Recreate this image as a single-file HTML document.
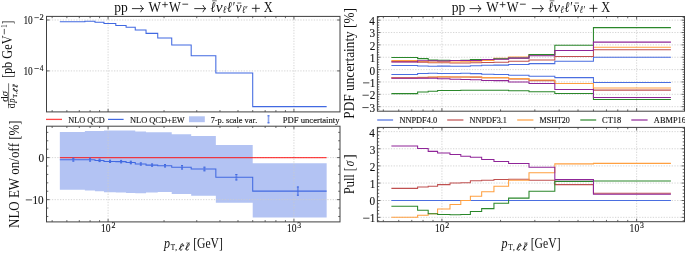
<!DOCTYPE html>
<html><head><meta charset="utf-8"><title>pT distribution</title>
<style>
html,body{margin:0;padding:0;background:#fff;width:685px;height:253px;overflow:hidden}
svg{display:block;will-change:transform}
text{font-family:"Liberation Serif",serif;fill:#111;font-kerning:none}
.lg,.tk{stroke:#111;stroke-width:0.12px}
.it{font-style:italic}
.g{stroke:#cbcbcb;stroke-width:0.8;stroke-dasharray:1.3 1.4;fill:none}
.t{stroke:#404040;stroke-width:0.8;fill:none}
.fr{stroke:#404040;stroke-width:1.0;fill:none}
.ln{fill:none;stroke-width:1.05;stroke-linejoin:miter}
.ln2{fill:none;stroke-width:1.05;stroke-linejoin:miter}
</style></head>
<body><svg width="685" height="253" viewBox="0 0 685 253">
<line x1="108.09" y1="16.4" x2="108.09" y2="111.9" class="g"/>
<line x1="293.93" y1="16.4" x2="293.93" y2="111.9" class="g"/>
<line x1="46.5" y1="20" x2="340" y2="20" class="g"/>
<line x1="46.5" y1="70.9" x2="340" y2="70.9" class="g"/>
<path d="M59.84 21.7H84.87V21.2H94.98V22.2H103.95V23.4H115.79V25.4H126.1V27.3H135.25V29.95H146.03V33.35H157.74V38H171.73V44.9H191.19V55.75H215.84V72.9H252.71V106.6H326.66" class="ln" stroke="#4169e1"/>
<path d="M52.15 16.4v1.8M52.15 111.9v-1.8M66.86 16.4v1.8M66.86 111.9v-1.8M79.31 16.4v1.8M79.31 111.9v-1.8M90.08 16.4v1.8M90.08 111.9v-1.8M99.59 16.4v1.8M99.59 111.9v-1.8M164.04 16.4v1.8M164.04 111.9v-1.8M196.76 16.4v1.8M196.76 111.9v-1.8M219.98 16.4v1.8M219.98 111.9v-1.8M237.99 16.4v1.8M237.99 111.9v-1.8M252.71 16.4v1.8M252.71 111.9v-1.8M265.15 16.4v1.8M265.15 111.9v-1.8M275.92 16.4v1.8M275.92 111.9v-1.8M285.43 16.4v1.8M285.43 111.9v-1.8M108.09 16.4v3M108.09 111.9v-3M293.93 16.4v3M293.93 111.9v-3" class="t"/>
<path d="M46.5 20h3M340 20h-3M46.5 70.9h3M340 70.9h-3" class="t"/>
<rect x="46.5" y="16.4" width="293.5" height="95.5" class="fr"/>
<path d="M59.84 132L84.87 132L84.87 130.9L94.98 130.9L94.98 130.9L103.95 130.9L103.95 130.6L115.79 130.6L115.79 130.4L126.1 130.4L126.1 130.6L135.25 130.6L135.25 131.6L146.03 131.6L146.03 132.3L157.74 132.3L157.74 132.3L171.73 132.3L171.73 134.2L191.19 134.2L191.19 136L215.84 136L215.84 145L252.71 145L252.71 163.2L326.66 163.2L326.66 217.4L252.71 217.4L252.71 202.8L215.84 202.8L215.84 195.8L191.19 195.8L191.19 194L171.73 194L171.73 192L157.74 192L157.74 192.6L146.03 192.6L146.03 193.3L135.25 193.3L135.25 193L126.1 193L126.1 192.5L115.79 192.5L115.79 192.2L103.95 192.2L103.95 191.2L94.98 191.2L94.98 190.4L84.87 190.4L84.87 189.7L59.84 189.7Z" fill="#b3c3f3"/>
<line x1="108.09" y1="126.2" x2="108.09" y2="221.9" class="g"/>
<line x1="293.93" y1="126.2" x2="293.93" y2="221.9" class="g"/>
<line x1="46.5" y1="157.6" x2="340" y2="157.6" class="g"/>
<line x1="46.5" y1="199.65" x2="340" y2="199.65" class="g"/>
<line x1="59.84" y1="157.6" x2="326.66" y2="157.6" stroke="#ff0000" stroke-opacity="0.72" stroke-width="1.3"/>
<path d="M59.84 159.7H84.87V159.7H94.98V160.4H103.95V161.4H115.79V161.6H126.1V162.5H135.25V164H146.03V165.1H157.74V165.7H171.73V167.3H191.19V169H215.84V177.2H252.71V191.1H326.66" class="ln" stroke="#4169e1"/>
<path d="M73.32 157.8V161.6M90.08 157.8V161.6M99.59 158.7V162.1M110.09 159.8V163M121.11 159.9V163.3M130.81 160.8V164.2M140.82 162.4V165.6M152.1 163.5V166.7M165.04 164V167.4M182.05 165.1V169.5M204.45 166.7V171.3M236.36 174V180.4M297.87 186.5V195.7" stroke="#4169e1" stroke-width="1.8" stroke-opacity="0.6" fill="none"/>
<path d="M72.32 158.3h2M72.32 161.1h2M89.08 158.3h2M89.08 161.1h2M98.59 159.2h2M98.59 161.6h2M109.09 160.3h2M109.09 162.5h2M120.11 160.4h2M120.11 162.8h2M129.81 161.3h2M129.81 163.7h2M139.82 162.9h2M139.82 165.1h2M151.1 164h2M151.1 166.2h2M164.04 164.5h2M164.04 166.9h2M181.05 165.6h2M181.05 169h2M203.45 167.2h2M203.45 170.8h2M235.36 174.5h2M235.36 179.9h2M296.87 187h2M296.87 195.2h2" stroke="#4169e1" stroke-width="1" fill="none"/>
<path d="M52.15 126.2v1.8M52.15 221.9v-1.8M66.86 126.2v1.8M66.86 221.9v-1.8M79.31 126.2v1.8M79.31 221.9v-1.8M90.08 126.2v1.8M90.08 221.9v-1.8M99.59 126.2v1.8M99.59 221.9v-1.8M164.04 126.2v1.8M164.04 221.9v-1.8M196.76 126.2v1.8M196.76 221.9v-1.8M219.98 126.2v1.8M219.98 221.9v-1.8M237.99 126.2v1.8M237.99 221.9v-1.8M252.71 126.2v1.8M252.71 221.9v-1.8M265.15 126.2v1.8M265.15 221.9v-1.8M275.92 126.2v1.8M275.92 221.9v-1.8M285.43 126.2v1.8M285.43 221.9v-1.8M108.09 126.2v3M108.09 221.9v-3M293.93 126.2v3M293.93 221.9v-3" class="t"/>
<path d="M46.5 216.47h1.8M340 216.47h-1.8M46.5 208.06h1.8M340 208.06h-1.8M46.5 191.24h1.8M340 191.24h-1.8M46.5 182.83h1.8M340 182.83h-1.8M46.5 174.42h1.8M340 174.42h-1.8M46.5 166.01h1.8M340 166.01h-1.8M46.5 149.19h1.8M340 149.19h-1.8M46.5 140.78h1.8M340 140.78h-1.8M46.5 132.37h1.8M340 132.37h-1.8M46.5 157.6h3M340 157.6h-3M46.5 199.65h3M340 199.65h-3" class="t"/>
<rect x="46.5" y="126.2" width="293.5" height="95.7" class="fr"/>
<line x1="441.93" y1="16.5" x2="441.93" y2="111.2" class="g"/>
<line x1="636.64" y1="16.5" x2="636.64" y2="111.2" class="g"/>
<line x1="377.4" y1="106.68" x2="684.5" y2="106.68" class="g"/>
<line x1="377.4" y1="94.32" x2="684.5" y2="94.32" class="g"/>
<line x1="377.4" y1="81.96" x2="684.5" y2="81.96" class="g"/>
<line x1="377.4" y1="69.6" x2="684.5" y2="69.6" class="g"/>
<line x1="377.4" y1="57.24" x2="684.5" y2="57.24" class="g"/>
<line x1="377.4" y1="44.88" x2="684.5" y2="44.88" class="g"/>
<line x1="377.4" y1="32.52" x2="684.5" y2="32.52" class="g"/>
<line x1="377.4" y1="20.16" x2="684.5" y2="20.16" class="g"/>
<path d="M391.38 65.5H417.6V66H428.19V66.2H437.59V66.1H449.99V66.3H460.8V66.3H470.38V65.8H481.67V65.3H493.95V65.1H508.6V64.4H529V63.6H554.82V61.3H593.44V57.3H670.92" class="ln2" stroke="#4a6ee0"/>
<path d="M391.38 74.4H417.6V73.5H428.19V73.3H437.59V73.5H449.99V73.5H460.8V73.3H470.38V73.6H481.67V74.2H493.95V74.5H508.6V75.3H529V76.3H554.82V77.6H593.44V82.5H670.92" class="ln2" stroke="#4a6ee0"/>
<path d="M391.38 61.6H417.6V62.1H428.19V62.8H437.59V62.7H449.99V62.9H460.8V62.9H470.38V62.7H481.67V62.5H493.95V62.2H508.6V61.3H529V59.9H554.82V56.4H593.44V49.7H670.92" class="ln2" stroke="#c05050"/>
<path d="M391.38 78H417.6V77.6H428.19V77.3H437.59V77H449.99V77H460.8V77H470.38V77.1H481.67V77.7H493.95V77.8H508.6V78.9H529V80.6H554.82V83.4H593.44V90.1H670.92" class="ln2" stroke="#c05050"/>
<path d="M391.38 60.6H417.6V61.4H428.19V62H437.59V61.7H449.99V61.9H460.8V61.7H470.38V61.2H481.67V60.5H493.95V58.3H508.6V56.9H529V54.6H554.82V50.5H593.44V47.2H670.92" class="ln2" stroke="#ffa040"/>
<path d="M391.38 77.6H417.6V77.2H428.19V77H437.59V76.8H449.99V77H460.8V76.9H470.38V77H481.67V77.6H493.95V77.6H508.6V78.6H529V80H554.82V83.4H593.44V87.9H670.92" class="ln2" stroke="#ffa040"/>
<path d="M391.38 57.4H417.6V58.6H428.19V60.1H437.59V60.2H449.99V60.4H460.8V60.2H470.38V59.4H481.67V59.4H493.95V58.8H508.6V58H529V54.6H554.82V45.3H593.44V27.6H670.92" class="ln2" stroke="#2a872a"/>
<path d="M391.38 93.6H417.6V92H428.19V91.3H437.59V90.4H449.99V90.4H460.8V90.2H470.38V90.2H481.67V90.2H493.95V90.2H508.6V90.7H529V91.7H554.82V93.4H593.44V99.4H670.92" class="ln2" stroke="#2a872a"/>
<path d="M391.38 61.9H417.6V60.8H428.19V60.8H437.59V61H449.99V60.4H460.8V60.4H470.38V60.4H481.67V59.4H493.95V59.2H508.6V58.1H529V55.8H554.82V50.5H593.44V42.1H670.92" class="ln2" stroke="#8f2598"/>
<path d="M391.38 78.1H417.6V78.1H428.19V78.2H437.59V78.8H449.99V79.3H460.8V79.5H470.38V79.8H481.67V80.4H493.95V80.6H508.6V81.9H529V83.4H554.82V89.4H593.44V97.5H670.92" class="ln2" stroke="#8f2598"/>
<path d="M383.32 16.5v1.8M383.32 111.2v-1.8M398.74 16.5v1.8M398.74 111.2v-1.8M411.77 16.5v1.8M411.77 111.2v-1.8M423.06 16.5v1.8M423.06 111.2v-1.8M433.02 16.5v1.8M433.02 111.2v-1.8M500.54 16.5v1.8M500.54 111.2v-1.8M534.83 16.5v1.8M534.83 111.2v-1.8M559.16 16.5v1.8M559.16 111.2v-1.8M578.02 16.5v1.8M578.02 111.2v-1.8M593.44 16.5v1.8M593.44 111.2v-1.8M606.48 16.5v1.8M606.48 111.2v-1.8M617.77 16.5v1.8M617.77 111.2v-1.8M627.73 16.5v1.8M627.73 111.2v-1.8M441.93 16.5v3M441.93 111.2v-3M636.64 16.5v3M636.64 111.2v-3" class="t"/>
<path d="M377.4 109.15h1.8M684.5 109.15h-1.8M377.4 104.21h1.8M684.5 104.21h-1.8M377.4 101.74h1.8M684.5 101.74h-1.8M377.4 99.26h1.8M684.5 99.26h-1.8M377.4 96.79h1.8M684.5 96.79h-1.8M377.4 91.85h1.8M684.5 91.85h-1.8M377.4 89.38h1.8M684.5 89.38h-1.8M377.4 86.9h1.8M684.5 86.9h-1.8M377.4 84.43h1.8M684.5 84.43h-1.8M377.4 79.49h1.8M684.5 79.49h-1.8M377.4 77.02h1.8M684.5 77.02h-1.8M377.4 74.54h1.8M684.5 74.54h-1.8M377.4 72.07h1.8M684.5 72.07h-1.8M377.4 67.13h1.8M684.5 67.13h-1.8M377.4 64.66h1.8M684.5 64.66h-1.8M377.4 62.18h1.8M684.5 62.18h-1.8M377.4 59.71h1.8M684.5 59.71h-1.8M377.4 54.77h1.8M684.5 54.77h-1.8M377.4 52.3h1.8M684.5 52.3h-1.8M377.4 49.82h1.8M684.5 49.82h-1.8M377.4 47.35h1.8M684.5 47.35h-1.8M377.4 42.41h1.8M684.5 42.41h-1.8M377.4 39.94h1.8M684.5 39.94h-1.8M377.4 37.46h1.8M684.5 37.46h-1.8M377.4 34.99h1.8M684.5 34.99h-1.8M377.4 30.05h1.8M684.5 30.05h-1.8M377.4 27.58h1.8M684.5 27.58h-1.8M377.4 25.1h1.8M684.5 25.1h-1.8M377.4 22.63h1.8M684.5 22.63h-1.8M377.4 17.69h1.8M684.5 17.69h-1.8M377.4 106.68h3M684.5 106.68h-3M377.4 94.32h3M684.5 94.32h-3M377.4 81.96h3M684.5 81.96h-3M377.4 69.6h3M684.5 69.6h-3M377.4 57.24h3M684.5 57.24h-3M377.4 44.88h3M684.5 44.88h-3M377.4 32.52h3M684.5 32.52h-3M377.4 20.16h3M684.5 20.16h-3" class="t"/>
<rect x="377.4" y="16.5" width="307.1" height="94.7" class="fr"/>
<line x1="441.93" y1="127.4" x2="441.93" y2="221.7" class="g"/>
<line x1="636.64" y1="127.4" x2="636.64" y2="221.7" class="g"/>
<line x1="377.4" y1="217.34" x2="684.5" y2="217.34" class="g"/>
<line x1="377.4" y1="200.5" x2="684.5" y2="200.5" class="g"/>
<line x1="377.4" y1="183.06" x2="684.5" y2="183.06" class="g"/>
<line x1="377.4" y1="165.92" x2="684.5" y2="165.92" class="g"/>
<line x1="377.4" y1="148.78" x2="684.5" y2="148.78" class="g"/>
<line x1="377.4" y1="131.64" x2="684.5" y2="131.64" class="g"/>
<path d="M391.38 200.5H417.6V200.5H428.19V200.5H437.59V200.5H449.99V200.5H460.8V200.5H470.38V200.5H481.67V200.5H493.95V200.5H508.6V200.5H529V200.5H554.82V200.5H593.44V200.5H670.92" class="ln2" stroke="#4a6ee0"/>
<path d="M391.38 188.37H417.6V187H428.19V186.32H437.59V184.6H449.99V183.06H460.8V182.72H470.38V180.83H481.67V180.32H493.95V179.46H508.6V179.29H529V180.15H554.82V184.6H593.44V193.29H670.92" class="ln2" stroke="#c05050"/>
<path d="M391.38 217.34H417.6V215.28H428.19V213.74H437.59V208.94H449.99V204.48H460.8V200.54H470.38V196.26H481.67V191.8H493.95V186.32H508.6V180.32H529V172.78H554.82V163.86H593.44V163.35H670.92" class="ln2" stroke="#ffa040"/>
<path d="M391.38 206.2H417.6V210.31H428.19V213.74H437.59V214.43H449.99V214.77H460.8V214.43H470.38V211.51H481.67V208.6H493.95V203.29H508.6V198.14H529V191.29H554.82V181.35H593.44V181H670.92" class="ln2" stroke="#2a872a"/>
<path d="M391.38 146.04H417.6V148.44H428.19V151.35H437.59V153.06H449.99V154.44H460.8V156.32H470.38V157.18H481.67V159.58H493.95V161.46H508.6V163.52H529V167.29H554.82V179.63H593.44V194.3H670.92" class="ln2" stroke="#8f2598"/>
<path d="M383.32 127.4v1.8M383.32 221.7v-1.8M398.74 127.4v1.8M398.74 221.7v-1.8M411.77 127.4v1.8M411.77 221.7v-1.8M423.06 127.4v1.8M423.06 221.7v-1.8M433.02 127.4v1.8M433.02 221.7v-1.8M500.54 127.4v1.8M500.54 221.7v-1.8M534.83 127.4v1.8M534.83 221.7v-1.8M559.16 127.4v1.8M559.16 221.7v-1.8M578.02 127.4v1.8M578.02 221.7v-1.8M593.44 127.4v1.8M593.44 221.7v-1.8M606.48 127.4v1.8M606.48 221.7v-1.8M617.77 127.4v1.8M617.77 221.7v-1.8M627.73 127.4v1.8M627.73 221.7v-1.8M441.93 127.4v3M441.93 221.7v-3M636.64 127.4v3M636.64 221.7v-3" class="t"/>
<path d="M377.4 220.77h1.8M684.5 220.77h-1.8M377.4 213.91h1.8M684.5 213.91h-1.8M377.4 210.48h1.8M684.5 210.48h-1.8M377.4 207.06h1.8M684.5 207.06h-1.8M377.4 203.63h1.8M684.5 203.63h-1.8M377.4 196.77h1.8M684.5 196.77h-1.8M377.4 193.34h1.8M684.5 193.34h-1.8M377.4 189.92h1.8M684.5 189.92h-1.8M377.4 186.49h1.8M684.5 186.49h-1.8M377.4 179.63h1.8M684.5 179.63h-1.8M377.4 176.2h1.8M684.5 176.2h-1.8M377.4 172.78h1.8M684.5 172.78h-1.8M377.4 169.35h1.8M684.5 169.35h-1.8M377.4 162.49h1.8M684.5 162.49h-1.8M377.4 159.06h1.8M684.5 159.06h-1.8M377.4 155.64h1.8M684.5 155.64h-1.8M377.4 152.21h1.8M684.5 152.21h-1.8M377.4 145.35h1.8M684.5 145.35h-1.8M377.4 141.92h1.8M684.5 141.92h-1.8M377.4 138.5h1.8M684.5 138.5h-1.8M377.4 135.07h1.8M684.5 135.07h-1.8M377.4 128.21h1.8M684.5 128.21h-1.8M377.4 217.34h3M684.5 217.34h-3M377.4 200.5h3M684.5 200.5h-3M377.4 183.06h3M684.5 183.06h-3M377.4 165.92h3M684.5 165.92h-3M377.4 148.78h3M684.5 148.78h-3M377.4 131.64h3M684.5 131.64h-3" class="t"/>
<rect x="377.4" y="127.4" width="307.1" height="94.3" class="fr"/>
<line x1="46" y1="119.4" x2="62" y2="119.4" stroke="#ff0000" stroke-opacity="0.72" stroke-width="1.3"/>
<line x1="108" y1="119.4" x2="123.6" y2="119.4" stroke="#4169e1" stroke-width="1.2"/>
<rect x="189" y="116.3" width="15.8" height="5.9" fill="#b3c3f3"/>
<path d="M268.5 115.3V123.3" stroke="#4169e1" stroke-width="1.6" stroke-opacity="0.6" fill="none"/>
<path d="M267.5 115.8h2M267.5 122.8h2" stroke="#4169e1" stroke-width="1" fill="none"/>
<text transform="translate(68.36 122.5) scale(1.0322 1)" font-size="8" class="lg">NLO QCD</text>
<text transform="translate(129.96 122.5) scale(1.0493 1)" font-size="8" class="lg">NLO QCD+EW</text>
<text transform="translate(210.65 122.5) scale(1.0408 1)" font-size="8" class="lg">7-p. scale var.</text>
<text transform="translate(282.75 122.5) scale(1.0802 1)" font-size="8" class="lg">PDF uncertainty</text>
<line x1="377.2" y1="120" x2="393.1" y2="120" stroke="#4a6ee0" stroke-width="1.2"/>
<text transform="translate(399.46 122.6) scale(1.0422 1)" font-size="8" class="lg">NNPDF4.0</text>
<line x1="447.2" y1="120" x2="463.4" y2="120" stroke="#c05050" stroke-width="1.2"/>
<text transform="translate(469.56 122.6) scale(1.0360 1)" font-size="8" class="lg">NNPDF3.1</text>
<line x1="517.2" y1="120" x2="533.4" y2="120" stroke="#ffa040" stroke-width="1.2"/>
<text transform="translate(539.57 122.6) scale(1.0037 1)" font-size="8" class="lg">MSHT20</text>
<line x1="580.3" y1="120" x2="596.2" y2="120" stroke="#2a872a" stroke-width="1.2"/>
<text transform="translate(602.05 122.6) scale(1.0574 1)" font-size="8" class="lg">CT18</text>
<line x1="631.3" y1="120" x2="647.6" y2="120" stroke="#8f2598" stroke-width="1.2"/>
<text transform="translate(653.82 122.6) scale(1.0500 1)" font-size="8" class="lg">ABMP16</text>
<text transform="translate(23.38 23.7) scale(0.7690 1)" font-size="12.2" class="tk">10</text>
<line x1="34.4" x2="38.9" y1="17.6" y2="17.6" stroke="#111" stroke-width="0.65"/>
<text transform="translate(39.53 19.65) scale(1.1160 1)" font-size="7.6" class="tk">2</text>
<text transform="translate(23.38 74.6) scale(0.7690 1)" font-size="12.2" class="tk">10</text>
<line x1="34.4" x2="38.9" y1="68.5" y2="68.5" stroke="#111" stroke-width="0.65"/>
<text transform="translate(39.76 70.55) scale(0.9624 1)" font-size="7.6" class="tk">4</text>
<text transform="translate(38.52 161.81) scale(0.9200 1)" font-size="12.2" class="tk">0</text>
<text transform="translate(32.5 203.91) scale(0.9200 1)" font-size="12.2" class="tk">10</text>
<line x1="25.79" x2="32.09" y1="199.9" y2="199.9" stroke="#111" stroke-width="0.75"/>
<text transform="translate(369.53 111.59) scale(0.9200 1)" font-size="12.2" class="tk">3</text>
<line x1="362.36" x2="368.66" y1="107.58" y2="107.58" stroke="#111" stroke-width="0.75"/>
<text transform="translate(369.71 99.23) scale(0.9200 1)" font-size="12.2" class="tk">2</text>
<line x1="362.5" x2="368.8" y1="95.22" y2="95.22" stroke="#111" stroke-width="0.75"/>
<text transform="translate(369.76 86.87) scale(0.9200 1)" font-size="12.2" class="tk">1</text>
<line x1="363.05" x2="369.35" y1="82.86" y2="82.86" stroke="#111" stroke-width="0.75"/>
<text transform="translate(369.52 74.51) scale(0.9200 1)" font-size="12.2" class="tk">0</text>
<text transform="translate(369.76 62.15) scale(0.9200 1)" font-size="12.2" class="tk">1</text>
<text transform="translate(369.71 49.79) scale(0.9200 1)" font-size="12.2" class="tk">2</text>
<text transform="translate(369.53 37.43) scale(0.9200 1)" font-size="12.2" class="tk">3</text>
<text transform="translate(369.26 25.07) scale(0.9200 1)" font-size="12.2" class="tk">4</text>
<text transform="translate(369.86 222.2) scale(0.9200 1)" font-size="12.2" class="tk">1</text>
<line x1="363.15" x2="369.45" y1="218.19" y2="218.19" stroke="#111" stroke-width="0.75"/>
<text transform="translate(369.62 205.36) scale(0.9200 1)" font-size="12.2" class="tk">0</text>
<text transform="translate(369.86 187.92) scale(0.9200 1)" font-size="12.2" class="tk">1</text>
<text transform="translate(369.81 170.78) scale(0.9200 1)" font-size="12.2" class="tk">2</text>
<text transform="translate(369.63 153.64) scale(0.9200 1)" font-size="12.2" class="tk">3</text>
<text transform="translate(369.36 136.5) scale(0.9200 1)" font-size="12.2" class="tk">4</text>
<text transform="translate(101.05 232.2) scale(0.7878 1)" font-size="12.2" class="tk">10</text>
<text transform="translate(111.44 227.5) scale(1.0503 1)" font-size="7.6" class="tk">2</text>
<text transform="translate(286.89 232.2) scale(0.7878 1)" font-size="12.2" class="tk">10</text>
<text transform="translate(297.26 227.5) scale(1.0193 1)" font-size="7.6" class="tk">3</text>
<text transform="translate(434.89 232.2) scale(0.7878 1)" font-size="12.2" class="tk">10</text>
<text transform="translate(445.28 227.5) scale(1.0503 1)" font-size="7.6" class="tk">2</text>
<text transform="translate(629.59 232.2) scale(0.7878 1)" font-size="12.2" class="tk">10</text>
<text transform="translate(639.97 227.5) scale(1.0193 1)" font-size="7.6" class="tk">3</text>
<text transform="translate(114.13 11.6) scale(0.9032 1)" font-size="15" class="tx">pp</text>
<path d="M131.95 8.6H143.35 M140.55 5.0Q141.55 7.9 143.55 8.6Q141.55 9.3 140.55 12.2" stroke="#111" stroke-width="0.85" fill="none"/>
<text transform="translate(148.54 11.6) scale(0.8786 1)" font-size="15" class="tx">W</text>
<path d="M162.15 4.6H167.85M165 1.8V7.4" stroke="#111" stroke-width="0.75" fill="none"/>
<text transform="translate(169.04 11.6) scale(0.8361 1)" font-size="15" class="tx">W</text>
<line x1="182.35" x2="188.15" y1="4.2" y2="4.2" stroke="#111" stroke-width="0.8"/>
<path d="M194.25 8.6H205.65 M202.85 5.0Q203.85 7.9 205.85 8.6Q203.85 9.3 202.85 12.2" stroke="#111" stroke-width="0.85" fill="none"/>
<text transform="translate(210.6 11.6) scale(0.8011 1)" font-size="15" font-style="italic" class="tx">ℓ</text>
<line x1="212.15" x2="216.75" y1="0.8" y2="0.8" stroke="#111" stroke-width="0.6"/>
<text transform="translate(215.74 11.6) scale(1.0228 1)" font-size="15" font-style="italic" class="tx">ν</text>
<text transform="translate(222.68 13.3) scale(0.8036 1)" font-size="10.5" font-style="italic" class="tx">ℓ</text>
<text transform="translate(226.9 11.6) scale(0.7975 1)" font-size="15" font-style="italic" class="tx">ℓ′</text>
<text transform="translate(235.77 11.6) scale(0.8679 1)" font-size="15" font-style="italic" class="tx">ν</text>
<line x1="237.25" x2="241.25" y1="3" y2="3" stroke="#111" stroke-width="0.65"/>
<text transform="translate(241.98 13.3) scale(0.7899 1)" font-size="10.5" font-style="italic" class="tx">ℓ′</text>
<path d="M251.85 8.35H259.85M255.85 4.45V12.25" stroke="#111" stroke-width="0.85" fill="none"/>
<text transform="translate(263.68 11.6) scale(0.8210 1)" font-size="15" class="tx">X</text>
<text transform="translate(451.73 11.6) scale(0.9032 1)" font-size="15" class="tx">pp</text>
<path d="M469.55 8.6H480.95 M478.15 5.0Q479.15 7.9 481.15 8.6Q479.15 9.3 478.15 12.2" stroke="#111" stroke-width="0.85" fill="none"/>
<text transform="translate(486.14 11.6) scale(0.8786 1)" font-size="15" class="tx">W</text>
<path d="M499.75 4.6H505.45M502.6 1.8V7.4" stroke="#111" stroke-width="0.75" fill="none"/>
<text transform="translate(506.64 11.6) scale(0.8361 1)" font-size="15" class="tx">W</text>
<line x1="519.95" x2="525.75" y1="4.2" y2="4.2" stroke="#111" stroke-width="0.8"/>
<path d="M531.85 8.6H543.25 M540.45 5.0Q541.45 7.9 543.45 8.6Q541.45 9.3 540.45 12.2" stroke="#111" stroke-width="0.85" fill="none"/>
<text transform="translate(548.2 11.6) scale(0.8011 1)" font-size="15" font-style="italic" class="tx">ℓ</text>
<line x1="549.75" x2="554.35" y1="0.8" y2="0.8" stroke="#111" stroke-width="0.6"/>
<text transform="translate(553.34 11.6) scale(1.0228 1)" font-size="15" font-style="italic" class="tx">ν</text>
<text transform="translate(560.28 13.3) scale(0.8036 1)" font-size="10.5" font-style="italic" class="tx">ℓ</text>
<text transform="translate(564.5 11.6) scale(0.7975 1)" font-size="15" font-style="italic" class="tx">ℓ′</text>
<text transform="translate(573.37 11.6) scale(0.8679 1)" font-size="15" font-style="italic" class="tx">ν</text>
<line x1="574.85" x2="578.85" y1="3" y2="3" stroke="#111" stroke-width="0.65"/>
<text transform="translate(579.58 13.3) scale(0.7899 1)" font-size="10.5" font-style="italic" class="tx">ℓ′</text>
<path d="M589.45 8.35H597.45M593.45 4.45V12.25" stroke="#111" stroke-width="0.85" fill="none"/>
<text transform="translate(601.28 11.6) scale(0.8210 1)" font-size="15" class="tx">X</text>
<text transform="translate(163.91 247.6) scale(0.8907 1)" font-size="13.6" font-style="italic" class="tx">p</text>
<text transform="translate(170.77 250) scale(0.8086 1)" font-size="8.8" class="tk">T</text>
<text transform="translate(175.32 250.2) scale(0.8207 1)" font-size="9" class="tk">,</text>
<path d="M179.13 248.98C180.6 247.79 183.1 245.55 182.97 244.23C182.84 243.44 181.75 243.5 181.37 244.36C180.73 245.68 179.96 248.32 179.96 249.51C179.96 250.5 181.05 250.5 182.07 249.51" fill="none" stroke="#111" stroke-width="0.9" stroke-linecap="round"/>
<text transform="translate(182.51 249) scale(1.4272 1)" font-size="7" class="tk">′</text>
<path d="M185.43 248.98C186.9 247.79 189.4 245.55 189.27 244.23C189.14 243.44 188.05 243.5 187.67 244.36C187.03 245.68 186.26 248.32 186.26 249.51C186.26 250.5 187.35 250.5 188.37 249.51" fill="none" stroke="#111" stroke-width="0.9" stroke-linecap="round"/>
<line x1="186.4" x2="190" y1="243" y2="243" stroke="#111" stroke-width="0.6"/>
<text transform="translate(193.13 247.7) scale(0.8588 1)" font-size="13.6" class="tx">[GeV]</text>
<text transform="translate(501.51 247.6) scale(0.8907 1)" font-size="13.6" font-style="italic" class="tx">p</text>
<text transform="translate(508.37 250) scale(0.8086 1)" font-size="8.8" class="tk">T</text>
<text transform="translate(512.92 250.2) scale(0.8207 1)" font-size="9" class="tk">,</text>
<path d="M516.73 248.98C518.2 247.79 520.7 245.55 520.57 244.23C520.44 243.44 519.35 243.5 518.97 244.36C518.33 245.68 517.56 248.32 517.56 249.51C517.56 250.5 518.65 250.5 519.67 249.51" fill="none" stroke="#111" stroke-width="0.9" stroke-linecap="round"/>
<text transform="translate(520.11 249) scale(1.4272 1)" font-size="7" class="tk">′</text>
<path d="M523.03 248.98C524.5 247.79 527 245.55 526.87 244.23C526.74 243.44 525.65 243.5 525.27 244.36C524.63 245.68 523.86 248.32 523.86 249.51C523.86 250.5 524.95 250.5 525.97 249.51" fill="none" stroke="#111" stroke-width="0.9" stroke-linecap="round"/>
<line x1="524" x2="527.6" y1="243" y2="243" stroke="#111" stroke-width="0.6"/>
<text transform="translate(530.73 247.7) scale(0.8588 1)" font-size="13.6" class="tx">[GeV]</text>
<text transform="translate(18.7 227.97) rotate(-90) scale(0.9541 1)" font-size="13.6" class="tx">NLO EW on/off [%]</text>
<text transform="translate(354.4 118.68) rotate(-90) scale(0.9767 1)" font-size="13.6" class="tx">PDF uncertainty [%]</text>
<text transform="translate(354.4 193.95) rotate(-90) scale(0.8976 1)" font-size="13.6" class="tx">Pull [</text>
<text transform="translate(354.4 166.33) rotate(-90) scale(0.8168 1)" font-size="13.6" font-style="italic" class="tx">σ</text>
<text transform="translate(354.4 159.12) rotate(-90) scale(1.0568 1)" font-size="13.6" class="tx">]</text>
<text transform="translate(12.3 78.11) rotate(-90) scale(0.8653 1)" font-size="14.2" class="tx">[pb GeV</text>
<line x1="4.3" x2="4.3" y1="28.9" y2="34.4" stroke="#111" stroke-width="0.7"/>
<text transform="translate(6.8 28.07) rotate(-90) scale(0.9130 1)" font-size="8.4" class="tx">1</text>
<text transform="translate(12.3 23.96) rotate(-90) scale(0.6958 1)" font-size="14.2" class="tx">]</text>
<text transform="translate(7.6 101.92) rotate(-90) scale(1.1504 1)" font-size="10.2" class="tx">d</text>
<text transform="translate(7.6 96.21) rotate(-90) scale(1.0297 1)" font-size="10.2" font-style="italic" class="tx">σ</text>
<line x1="8.6" y1="83.3" x2="8.6" y2="108.2" stroke="#111" stroke-width="0.6"/>
<text transform="translate(15 108.34) rotate(-90) scale(0.9686 1)" font-size="9.6" class="tx">d</text>
<text transform="translate(15 102.69) rotate(-90) scale(0.9070 1)" font-size="9.6" font-style="italic" class="tx">p</text>
<text transform="translate(17.4 97.5) rotate(-90) scale(0.8407 1)" font-size="6.4" class="tk">T</text>
<text transform="translate(17.4 93.8) rotate(-90) scale(0.8393 1)" font-size="6.4" class="tk">,</text>
<path d="M16.72 91.81C15.93 90.75 14.43 88.96 13.55 89.05C13.02 89.14 13.07 89.92 13.64 90.2C14.52 90.66 16.28 91.21 17.07 91.21C17.73 91.21 17.73 90.43 17.07 89.69" fill="none" stroke="#111" stroke-width="0.75" stroke-linecap="round"/>
<text transform="translate(16.6 89.27) rotate(-90) scale(1.3623 1)" font-size="5.5" class="tk">′</text>
<path d="M16.72 87.31C15.93 86.25 14.43 84.46 13.55 84.55C13.02 84.64 13.07 85.42 13.64 85.7C14.52 86.16 16.28 86.71 17.07 86.71C17.73 86.71 17.73 85.93 17.07 85.19" fill="none" stroke="#111" stroke-width="0.75" stroke-linecap="round"/>
<line x1="13.0" x2="13.0" y1="87.0" y2="84.2" stroke="#111" stroke-width="0.55"/>
</svg></body></html>
